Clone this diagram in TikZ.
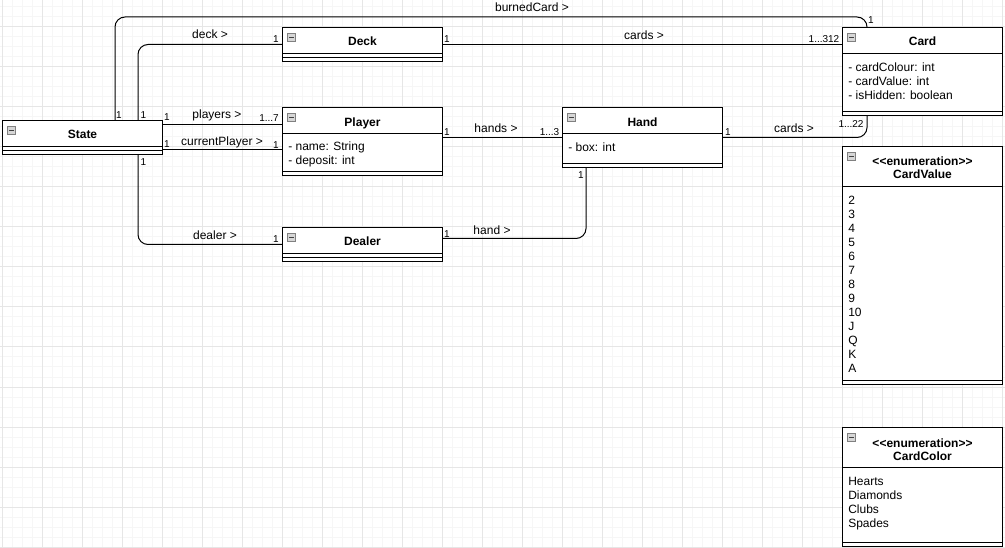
\documentclass[tikz,border=0pt]{standalone}
\usepackage{fontspec}
\setmainfont{Liberation Sans}
\usetikzlibrary{calc}
\definecolor{gridminor}{HTML}{F6F6F6}
\definecolor{gridmajor}{HTML}{E6E6E6}
\definecolor{iconfill}{HTML}{D6D6D6}
\definecolor{iconline}{HTML}{808080}
\tikzset{
 cls/.style={draw=black, line width=0.75pt, fill=white, anchor=north west, inner sep=0pt, outer sep=0pt},
 conn/.style={draw=black, line width=0.75pt, rounded corners=7.5pt},
 lbl/.style={font=\fontsize{9}{10.5}\selectfont, anchor=base, inner sep=0pt},
 mult/.style={font=\fontsize{7.5}{9}\selectfont, anchor=base, inner sep=0pt},
 ttl/.style={font=\fontsize{9}{9.4}\selectfont\bfseries, anchor=base, inner sep=0pt, align=center},
 attr/.style={font=\fontsize{9}{10.5}\selectfont, anchor=base west, inner sep=0pt, align=left},
}
\newcommand\umlbox[6]{%
  \node[cls, minimum width={#4*0.75pt}, minimum height={#5*0.75pt}] (#1) at (#2,#3) {};
  \draw[line width=0.75pt] ($(#1.north west)+(0,#6)$) -- ($(#1.north east)+(0,#6)$);
  \draw[line width=0.75pt] ($(#1.south west)+(0,-4)$) -- ($(#1.south east)+(0,-4)$);
  \draw[fill=iconfill, draw=iconline, line width=0.5pt] ($(#1.north west)+(5,6)$) rectangle ($(#1.north west)+(13,14)$);
  \draw[iconline!50!black, line width=0.75pt] ($(#1.north west)+(6.5,10)$) -- ($(#1.north west)+(11.5,10)$);
}
\begin{document}
\begin{tikzpicture}[x=0.75pt, y=-0.75pt]
\useasboundingbox (0,0) rectangle (1005,548);
\fill[white] (0,0) rectangle (1005,548);
% grid
\foreach \gx in {2,12,...,1002} \draw[gridminor, line width=0.75pt] (\gx,0) -- (\gx,548);
\foreach \gy in {7,17,...,547} \draw[gridminor, line width=0.75pt] (0,\gy) -- (1005,\gy);
\foreach \gx in {2,42,...,1002} \draw[gridmajor, line width=0.75pt] (\gx,0) -- (\gx,548);
\foreach \gy in {27,67,...,547} \draw[gridmajor, line width=0.75pt] (0,\gy) -- (1005,\gy);

% classes
\umlbox{state}{2.5}{120.5}{160}{34}{26}
\umlbox{deck}{282.5}{27.5}{160}{34}{26}
\umlbox{player}{282.5}{107.5}{160}{68}{26}
\umlbox{dealer}{282.5}{227.5}{160}{34}{26}
\umlbox{hand}{562.5}{107.5}{160}{60}{26}
\umlbox{card}{842.5}{27.5}{160}{88}{26}
\umlbox{cardvalue}{842.5}{146.5}{160}{238}{40}
\umlbox{cardcolor}{842.5}{427.5}{160}{119}{40}

% titles (base anchor = baseline of the last line)
\node[ttl] (stateT) at (82.5,138.5) {State};
\node[ttl] (deckT) at (362.5,46) {Deck};
\node[ttl] (playerT) at (362.5,126.5) {Player};
\node[ttl] (dealerT) at (362.5,246) {Dealer};
\node[ttl] (handT) at (642.5,126.5) {Hand};
\node[ttl] (cardT) at (922.5,46) {Card};
\node[ttl] (cardvalueT) at (922.5,178.5) {{<}{<}enumeration{>}{>}\\CardValue};
\node[ttl] (cardcolorT) at (922.5,460.5) {{<}{<}enumeration{>}{>}\\CardColor};

% attributes
\node[attr] (playerA) at (288,165) {- name: String\\- deposit: int};
\node[attr] (handA) at (568,151.5) {- box: int};
\node[attr] (cardA) at (848,99.5) {- cardColour: int\\- cardValue: int\\- isHidden: boolean};
\node[attr] (cardvalueA) at (848,372.5) {2\\3\\4\\5\\6\\7\\8\\9\\10\\J\\Q\\K\\A};
\node[attr] (cardcolorA) at (848,527.5) {Hearts\\Diamonds\\Clubs\\Spades};

% connectors
\draw[conn] ($(state.north west)+(112.5,0)$) |- ($(card.north west)+(24.5,-10.5)$) -- ($(card.north west)+(24.5,0)$);
\draw[conn] ($(state.north west)+(135.5,0)$) |- (deck.west);
\draw[conn] ($(state.north east)+(0,4)$) coordinate (pA) -- (pA -| player.west);
\draw[conn] ($(state.north east)+(0,29.5)$) coordinate (pB) -- (pB -| player.west);
\draw[conn] ($(state.south west)+(135.5,0)$) |- (dealer.west);
\draw[conn] (deck.east) -- (deck.east -| card.west);
\draw[conn] ($(player.north east)+(0,30)$) coordinate (pC) -- (pC -| hand.west);
\draw[conn] ($(dealer.north east)+(0,11)$) -| ($(hand.south west)+(23.5,0)$);
\draw[conn] ($(hand.north east)+(0,30)$) -| ($(card.south west)+(24.5,0)$);

% connector labels
\node[lbl] (l1) at (532,11.5) {burnedCard >};
\node[lbl] (l2) at (210,39) {deck >};
\node[lbl] (l3) at (217,118.5) {players >};
\node[lbl] (l4) at (222,145.5) {currentPlayer >};
\node[lbl] (l5) at (215,239.5) {dealer >};
\node[lbl] (l6) at (644,39.5) {cards >};
\node[lbl] (l7) at (496,132.5) {hands >};
\node[lbl] (l8) at (492,234.5) {hand >};
\node[lbl] (l9) at (794,132.5) {cards >};

% multiplicities
\node[mult] (m1) at (119,118.6) {1};
\node[mult] (m2) at (143.5,118.6) {1};
\node[mult] (m3) at (167,121) {1};
\node[mult] (m4) at (167,148) {1};
\node[mult] (m5) at (143.5,166) {1};
\node[mult] (m6) at (871,23.6) {1};
\node[mult] (m7) at (276,42.6) {1};
\node[mult] (m8) at (269,121.6) {1...7};
\node[mult] (m9) at (276,148.6) {1};
\node[mult] (m10) at (276,242.6) {1};
\node[mult] (m11) at (447,42.6) {1};
\node[mult] (m12) at (824,42.6) {1...312};
\node[mult] (m13) at (447,135.6) {1};
\node[mult] (m14) at (549.5,135.6) {1...3};
\node[mult] (m15) at (447,237.6) {1};
\node[mult] (m16) at (581,178.6) {1};
\node[mult] (m17) at (728,135.6) {1};
\node[mult] (m18) at (851,127.6) {1...22};
\end{tikzpicture}
\end{document}
